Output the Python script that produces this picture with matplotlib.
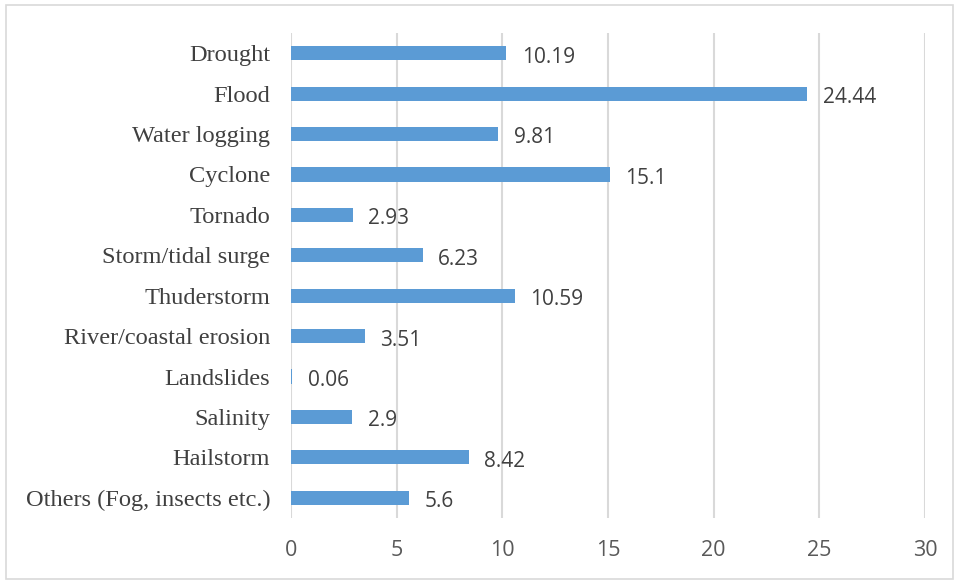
import matplotlib
matplotlib.use("Agg")
import matplotlib.pyplot as plt
from matplotlib.patches import Rectangle

categories = [
    "Drought", "Flood", "Water logging", "Cyclone", "Tornado",
    "Storm/tidal surge", "Thuderstorm", "River/coastal erosion",
    "Landslides", "Salinity", "Hailstorm", "Others (Fog, insects etc.)",
]
values = [10.19, 24.44, 9.81, 15.1, 2.93, 6.23, 10.59, 3.51, 0.06, 2.9, 8.42, 5.6]
value_labels = ["10.19", "24.44", "9.81", "15.1", "2.93", "6.23", "10.59",
                "3.51", "0.06", "2.9", "8.42", "5.6"]
x_ticks = [0, 5, 10, 15, 20, 25, 30]

W, H, DPI = 955, 580, 100
fig = plt.figure(figsize=(W / DPI, H / DPI), dpi=DPI)
fig.patch.set_facecolor("white")

# outer chart border
fig.add_artist(Rectangle((6 / W, 1 - 579 / H), (953 - 6) / W, (579 - 5) / H,
                         transform=fig.transFigure, fill=False,
                         edgecolor="#d9d9d9", linewidth=1.2))

left, right, top, bottom = 291, 925, 33, 518
ax = fig.add_axes([left / W, 1 - bottom / H, (right - left) / W, (bottom - top) / H])

n = len(categories)
ypos = list(range(n))
ax.barh(ypos, values, height=0.35, color="#5b9bd5", zorder=3)
ax.set_ylim(n - 0.5, -0.5)
ax.set_xlim(0, 30)
ax.set_xticks(x_ticks)
ax.set_xticklabels([str(t) for t in x_ticks], fontfamily="Open Sans",
                   fontsize=15.5, color="#595959")
ax.set_yticks(ypos)
ax.set_yticklabels(categories, fontfamily="Liberation Serif", fontsize=17.6,
                   color="#404040")
ax.tick_params(axis="x", length=0, pad=16)
ax.tick_params(axis="y", length=0, pad=15)

ax.grid(axis="x", color="#d9d9d9", linewidth=1.5, zorder=0)
for s in ax.spines.values():
    s.set_visible(False)

for y, v, lab in zip(ypos, values, value_labels):
    ax.annotate(lab, (v, y), xytext=(11, -1), textcoords="offset points",
                ha="left", va="center_baseline", fontfamily="Open Sans",
                fontsize=15, color="#404040")

fig.savefig("out.png", dpi=DPI, facecolor="white")
